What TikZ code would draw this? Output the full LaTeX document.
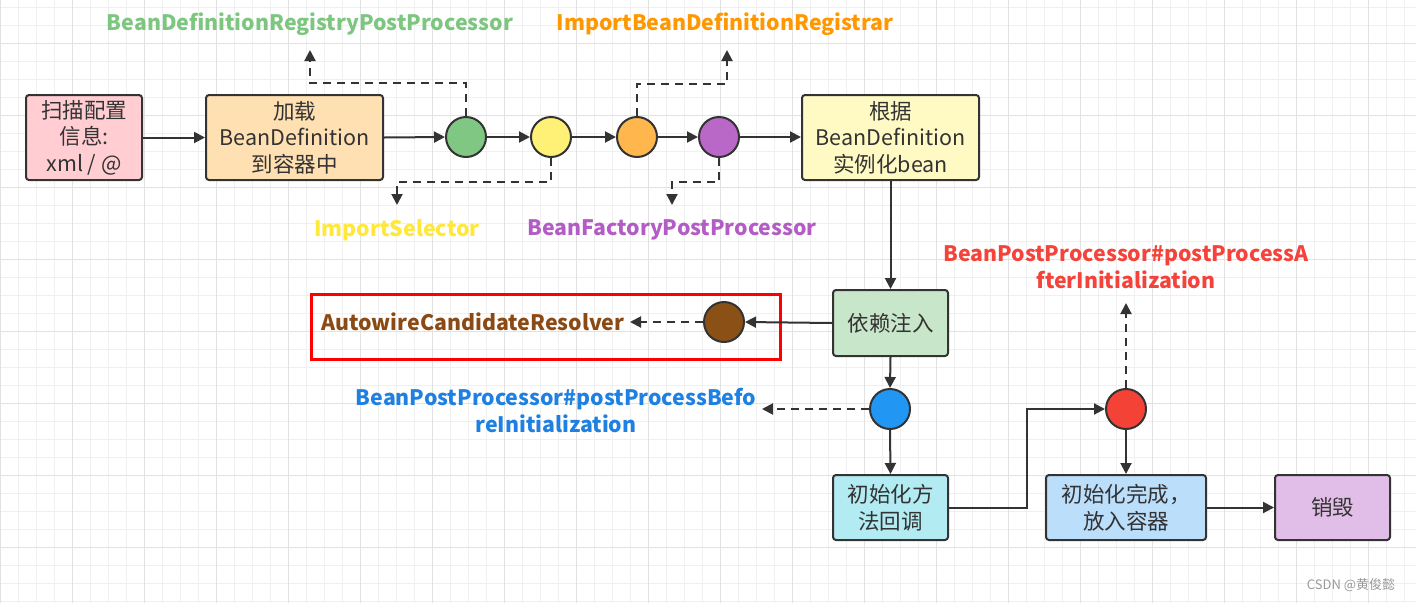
\documentclass[tikz,border=0pt]{standalone}
\usepackage{fontspec}
\setmainfont{Noto Sans CJK SC}
\usetikzlibrary{arrows.meta}
\definecolor{lc}{HTML}{333333}
\definecolor{txt}{HTML}{333333}
\definecolor{gmin}{HTML}{F0F0F0}
\definecolor{gmaj}{HTML}{E2E2E2}
\definecolor{cPink}{HTML}{FFCDD2}
\definecolor{cPeach}{HTML}{FFE0B2}
\definecolor{cLYel}{HTML}{FFF9C4}
\definecolor{cLGreen}{HTML}{C8E6C9}
\definecolor{cCyan}{HTML}{B2EBF2}
\definecolor{cLBlue}{HTML}{BBDEFB}
\definecolor{cLPurp}{HTML}{E1BEE7}
\definecolor{cGreen}{HTML}{81C784}
\definecolor{cYel}{HTML}{FFF176}
\definecolor{cOra}{HTML}{FFB74D}
\definecolor{cPur}{HTML}{BA68C8}
\definecolor{cBlue}{HTML}{2196F3}
\definecolor{cRed}{HTML}{F44336}
\definecolor{cBrown}{HTML}{8B5016}
\definecolor{tGreen}{HTML}{7DC680}
\definecolor{tYel}{HTML}{FFE83A}
\definecolor{tOra}{HTML}{FF9800}
\definecolor{tPur}{HTML}{B45CC5}
\definecolor{tRed}{HTML}{F4433A}
\definecolor{tBlue}{HTML}{1E80E0}
\definecolor{tBrown}{HTML}{8B4A14}
\begin{document}
\begin{tikzpicture}[x=1pt,y=-1pt,
  box/.style={draw=lc, line width=2pt, rounded corners=3pt, align=center,
    font=\fontsize{21.5}{26.5}\selectfont, text=txt, inner sep=0pt},
  circ/.style={circle, draw=lc, line width=2pt, minimum size=40pt, inner sep=0pt},
  arr/.style={draw=lc, line width=2pt, -{Triangle[length=11pt,width=11pt]}},
  darr/.style={arr, dash pattern=on 8pt off 6pt},
  lbl/.style={font=\bfseries\fontsize{21.3}{27}\selectfont, align=center, inner sep=0pt}]
\useasboundingbox (0,0) rectangle (1416,603);
\fill[white] (0,0) rectangle (1416,603);
% grid
\foreach \x in {0,18,...,1416} \draw[gmin, line width=0.8pt] (\x,0) -- (\x,603);
\foreach \y in {7,25,...,603} \draw[gmin, line width=0.8pt] (0,\y) -- (1416,\y);
\foreach \x in {0,72,...,1416} \draw[gmaj, line width=1pt] (\x,0) -- (\x,603);
\foreach \y in {43,115,...,603} \draw[gmaj, line width=1pt] (0,\y) -- (1416,\y);

% main row nodes
\node[box, fill=cPink, minimum width=116pt, minimum height=85pt] (n1) at (84,137.5) {扫描配置\\信息:\\xml / @};
\node[box, fill=cPeach, minimum width=177pt, minimum height=85pt] (n2) at (294.5,137.5) {加载\\BeanDefinition\\到容器中};
\node[box, fill=cLYel, minimum width=177pt, minimum height=85pt] (n3) at (890.5,137.5) {根据\\BeanDefinition\\实例化bean};
\node[circ, fill=cGreen] (g) at (466,137) {};
\node[circ, fill=cYel] (y) at (551,137) {};
\node[circ, fill=cOra] (o) at (637,137) {};
\node[circ, fill=cPur] (p) at (719,137) {};

\node[box, fill=cLGreen, minimum width=115pt, minimum height=66pt] (di) at (890.5,323) {依赖注入};
\node[circ, fill=cBrown] (br) at (724,322) {};
\node[circ, fill=cBlue] (bl) at (890,409) {};
\node[circ, fill=cRed] (rd) at (1126,409) {};
\node[box, fill=cCyan, minimum width=115pt, minimum height=65pt] (cb) at (890.5,507.5) {初始化方\\法回调};
\node[box, fill=cLBlue, minimum width=160pt, minimum height=65pt] (dn) at (1126,507.5) {初始化完成，\\放入容器};
\node[box, fill=cLPurp, minimum width=115pt, minimum height=65pt] (xh) at (1332.5,507.5) {销毁};

% labels
\node[lbl, text=tGreen] (lg) at (310,24) {BeanDefinitionRegistryPostProcessor};
\node[lbl, text=tYel] (ls) at (397,230) {ImportSelector};
\node[lbl, text=tOra] (lr) at (725,24) {ImportBeanDefinitionRegistrar};
\node[lbl, text=tPur] (lbf) at (672,230) {BeanFactoryPostProcessor};
\node[lbl, text=tRed] (laf) at (1126,267) {BeanPostProcessor\#postProcessA\\fterInitialization};
\node[lbl, text=tBlue] (lbo) at (556,410.5) {BeanPostProcessor\#postProcessBefo\\reInitialization};
\node[lbl, text=tBrown] (lac) at (473,322) {AutowireCandidateResolver};
\node[draw=red, line width=3pt, minimum width=469pt, minimum height=65pt, inner sep=0pt] (hl) at (545.5,327) {};
\node[font=\fontsize{13}{15}\selectfont, text=black!40, inner sep=0pt] (wm) at (1351,585) {CSDN @黄俊懿};

% coordinates
\coordinate (lgB) at (310,83);
\coordinate (lgA) at (310,50);
\coordinate (isB) at (397,182);
\coordinate (isA) at (397,205);
\coordinate (rgB) at (727,84);
\coordinate (rgA) at (727,50);
\coordinate (bfB) at (672,182);
\coordinate (bfA) at (672,205);
\coordinate (afA) at (1126,303);
\coordinate (boA) at (762,409);
\coordinate (acA) at (630,322);
\coordinate (k1) at (1027,409);

% solid arrows
\draw[arr] (n1) -- (n2);
\draw[arr] (n2.east) -- (g.west);
\draw[arr] (g) -- (y);
\draw[arr] (y) -- (o);
\draw[arr] (o) -- (p);
\draw[arr] (p.east) -- (n3.west |- p.east);
\draw[arr] (n3.south) -- (di.north);
\draw[arr] (di.west) -- (br.east);
\draw[arr] (di.south) -- (bl.north);
\draw[arr] (bl.south) -- (cb.north);
\draw[arr] (cb.east) -| (k1) -- (rd.west);
\draw[arr] (rd.south) -- (dn.north);
\draw[arr] (dn.east) -- (xh.west);

% dashed arrows
\draw[darr] (g.north) |- (lgB) -- (lgA);
\draw[darr] (y.south) |- (isB) -- (isA);
\draw[darr] (o.north) |- (rgB) -- (rgA);
\draw[darr] (p.south) |- (bfB) -- (bfA);
\draw[darr] (rd.north) -- (afA);
\draw[darr] (bl.west) -- (boA);
\draw[darr] (br.west) -- (acA);
\end{tikzpicture}
\end{document}
